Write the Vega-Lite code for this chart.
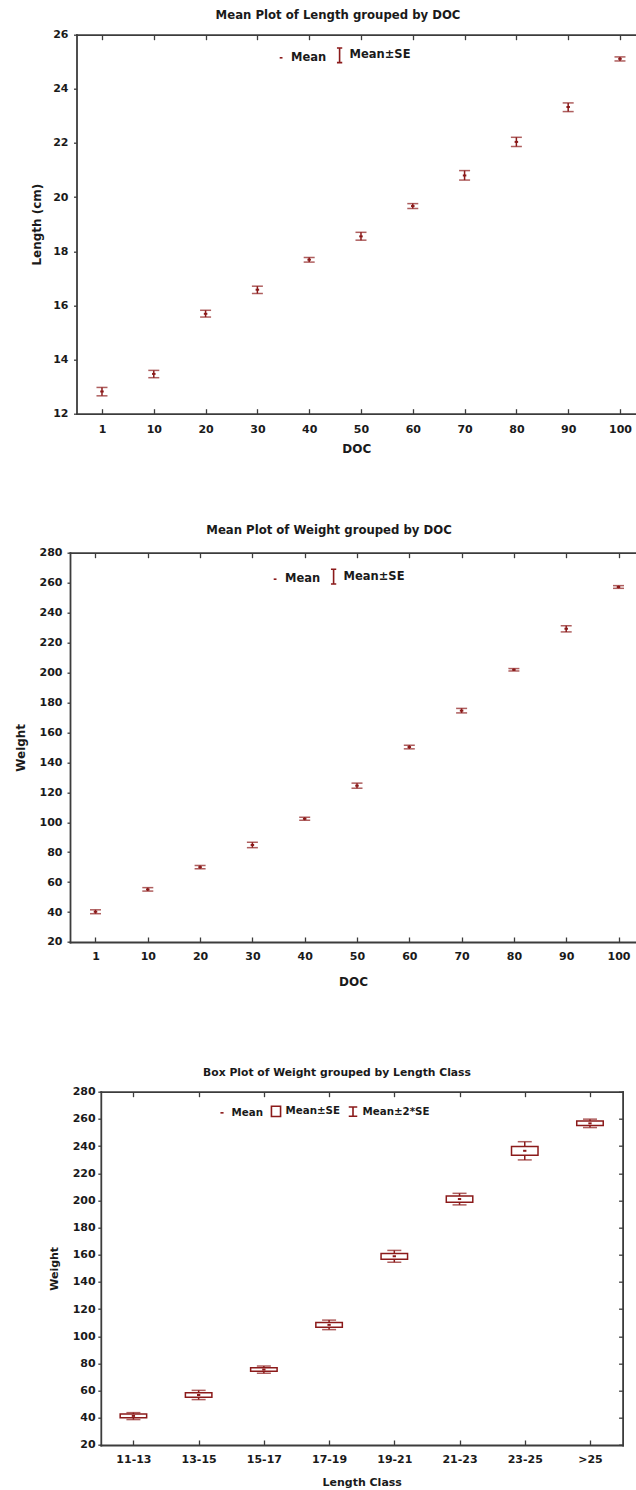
{
  "$schema": "https://vega.github.io/schema/vega-lite/v6.json",
  "padding": {"left": 14, "top": 9.7, "right": 0, "bottom": 0},
  "columns": 1,
  "spacing": 70,
  "align": "none",
  "bounds": "full",
  "resolve": {"scale": {"shape": "independent"}, "legend": {"shape": "independent"}},
  "config": {
    "font": "DejaVu Sans",
    "view": {"stroke": null},
    "axis": {
      "labelFont": "DejaVu Sans", "labelFontWeight": "bold", "labelFontSize": 11, "labelColor": "#1a1a1a",
      "titleFont": "DejaVu Sans", "titleFontWeight": "bold", "titleFontSize": 12, "titleColor": "#1a1a1a",
      "domainColor": "#3c3c3c", "domainWidth": 1.8, "domainCap": "square",
      "tickColor": "#3c3c3c", "tickWidth": 1.3, "grid": false, "labelAngle": 0
    },
    "title": {"font": "DejaVu Sans", "fontWeight": "bold", "color": "#1a1a1a", "anchor": "middle"},
    "legend": {"padding": 0, "labelFont": "DejaVu Sans", "labelFontWeight": "bold", "labelColor": "#1a1a1a", "symbolStrokeColor": "#8b1a1a", "symbolFillColor": "transparent", "symbolStrokeWidth": 1.6}
  },
  "concat": [
    {
      "width": 566, "height": 379,
      "title": {"text": "Mean Plot of Length grouped by  DOC", "fontSize": 11.7, "dx": -15, "offset": 7.3},
      "data": {"values": [
        {"DOC": "1", "mean": 12.82, "lo": 12.66, "hi": 12.97},
        {"DOC": "10", "mean": 13.47, "lo": 13.33, "hi": 13.6},
        {"DOC": "20", "mean": 15.69, "lo": 15.57, "hi": 15.82},
        {"DOC": "30", "mean": 16.58, "lo": 16.44, "hi": 16.71},
        {"DOC": "40", "mean": 17.69, "lo": 17.6, "hi": 17.77},
        {"DOC": "50", "mean": 18.55, "lo": 18.41, "hi": 18.7},
        {"DOC": "60", "mean": 19.67, "lo": 19.58, "hi": 19.76},
        {"DOC": "70", "mean": 20.8, "lo": 20.63, "hi": 20.98},
        {"DOC": "80", "mean": 22.04, "lo": 21.87, "hi": 22.21},
        {"DOC": "90", "mean": 23.33, "lo": 23.16, "hi": 23.48},
        {"DOC": "100", "mean": 25.11, "lo": 25.03, "hi": 25.18}
      ]},
      "layer": [
        {
          "mark": {"type": "rule", "color": "#8b1a1a", "strokeWidth": 1.5},
          "encoding": {
            "x": {"field": "DOC", "type": "ordinal", "sort": null,
                  "scale": {"type": "point", "domain": ["1","10","20","30","40","50","60","70","80","90","100"], "range": [6.5, 566], "padding": 0.4006, "align": 0.614},
                  "axis": {"orient": "bottom", "title": "DOC", "tickSize": -5, "labelPadding": 15, "titlePadding": 9}},
            "y": {"field": "lo", "type": "quantitative",
                  "scale": {"domain": [12, 26], "nice": false, "zero": false},
                  "axis": {"values": [12,14,16,18,20,22,24,26], "offset": -6.5, "tickSize": 3, "labelPadding": 5.5, "title": "Length (cm)", "titlePadding": 9}},
            "y2": {"field": "hi"}
          }
        },
        {
          "mark": {"type": "tick", "color": "#8b1a1a", "size": 11, "thickness": 1.5},
          "encoding": {"x": {"field": "DOC", "type": "ordinal", "sort": null, "axis": null}, "y": {"field": "lo", "type": "quantitative", "axis": null}}
        },
        {
          "mark": {"type": "tick", "color": "#8b1a1a", "size": 11, "thickness": 1.5},
          "encoding": {"x": {"field": "DOC", "type": "ordinal", "sort": null, "axis": null}, "y": {"field": "hi", "type": "quantitative", "axis": null}}
        },
        {
          "mark": {"type": "point", "filled": false, "color": "#8b1a1a", "size": 340, "strokeWidth": 2, "opacity": 1},
          "encoding": {
            "x": {"field": "DOC", "type": "ordinal", "sort": null, "axis": {"orient": "top", "labels": false, "title": null, "tickSize": -5}},
            "y": {"field": "mean", "type": "quantitative", "axis": null},
            "shape": {"datum": "Mean",
                      "scale": {"domain": ["Mean", "Mean±SE"], "range": ["M-0.19,0L0.19,0", "M-0.36,-1L0.36,-1M0,-1L0,1M-0.36,1L0.36,1"]},
                      "legend": {"title": null, "orient": "none", "legendX": 202.6, "legendY": 11.6, "direction": "horizontal", "symbolSize": 216, "labelFontSize": 11.5, "labelOffset": 1.5, "columnPadding": 4.5}}
          }
        }
      ],
      "resolve": {"axis": {"x": "independent", "y": "independent"}}
    },
    {
      "width": 566, "height": 389.3,
      "title": {"text": "Mean Plot of Weight grouped by  DOC", "fontSize": 11.7, "dx": -24, "offset": 9.7},
      "data": {"values": [
        {"DOC": "1", "mean": 40.2, "lo": 38.9, "hi": 41.5},
        {"DOC": "10", "mean": 55.1, "lo": 54.0, "hi": 56.3},
        {"DOC": "20", "mean": 70.0, "lo": 68.9, "hi": 71.1},
        {"DOC": "30", "mean": 84.8, "lo": 83.0, "hi": 86.6},
        {"DOC": "40", "mean": 102.3, "lo": 101.3, "hi": 103.3},
        {"DOC": "50", "mean": 124.4, "lo": 122.7, "hi": 126.1},
        {"DOC": "60", "mean": 150.2, "lo": 149.0, "hi": 151.4},
        {"DOC": "70", "mean": 174.5, "lo": 173.0, "hi": 176.0},
        {"DOC": "80", "mean": 201.8, "lo": 201.0, "hi": 202.6},
        {"DOC": "90", "mean": 229.2, "lo": 227.1, "hi": 231.2},
        {"DOC": "100", "mean": 257.1, "lo": 256.2, "hi": 258.0}
      ]},
      "layer": [
        {
          "mark": {"type": "rule", "color": "#8b1a1a", "strokeWidth": 1.5},
          "encoding": {
            "x": {"field": "DOC", "type": "ordinal", "sort": null,
                  "scale": {"type": "point", "domain": ["1","10","20","30","40","50","60","70","80","90","100"], "padding": 0.411, "align": 0.593},
                  "axis": {"orient": "bottom", "title": ["DOC", ""], "titleLineHeight": 8, "tickSize": -5, "labelPadding": 14, "titlePadding": 15}},
            "y": {"field": "lo", "type": "quantitative",
                  "scale": {"domain": [20, 280], "nice": false, "zero": false},
                  "axis": {"values": [20,40,60,80,100,120,140,160,180,200,220,240,260,280], "tickSize": 3, "labelPadding": 5, "title": "Weight", "titlePadding": 12}},
            "y2": {"field": "hi"}
          }
        },
        {
          "mark": {"type": "tick", "color": "#8b1a1a", "size": 11, "thickness": 1.5},
          "encoding": {"x": {"field": "DOC", "type": "ordinal", "sort": null, "axis": null}, "y": {"field": "lo", "type": "quantitative", "axis": null}}
        },
        {
          "mark": {"type": "tick", "color": "#8b1a1a", "size": 11, "thickness": 1.5},
          "encoding": {"x": {"field": "DOC", "type": "ordinal", "sort": null, "axis": null}, "y": {"field": "hi", "type": "quantitative", "axis": null}}
        },
        {
          "mark": {"type": "point", "filled": false, "color": "#8b1a1a", "size": 340, "strokeWidth": 2, "opacity": 1},
          "encoding": {
            "x": {"field": "DOC", "type": "ordinal", "sort": null, "axis": {"orient": "top", "labels": false, "title": null, "tickSize": -5}},
            "y": {"field": "mean", "type": "quantitative", "axis": null},
            "shape": {"datum": "Mean",
                      "scale": {"domain": ["Mean", "Mean±SE"], "range": ["M-0.19,0L0.19,0", "M-0.36,-1L0.36,-1M0,-1L0,1M-0.36,1L0.36,1"]},
                      "legend": {"title": null, "orient": "none", "legendX": 196.6, "legendY": 15, "direction": "horizontal", "symbolSize": 216, "labelFontSize": 11.5, "labelOffset": 1.5, "columnPadding": 4.5}}
          }
        }
      ],
      "resolve": {"axis": {"x": "independent", "y": "independent"}}
    },
    {
      "width": 552.6, "height": 353.3,
      "title": {"text": "Box Plot of Weight grouped by  Length Class", "fontSize": 10.8, "dx": -9.3, "offset": 7.7},
      "data": {"values": [
        {"cls": "11-13", "mean": 41.4, "boxLo": 40.0, "boxHi": 42.8, "whLo": 38.7, "whHi": 43.8},
        {"cls": "13-15", "mean": 56.8, "boxLo": 55.1, "boxHi": 58.5, "whLo": 53.4, "whHi": 60.2},
        {"cls": "15-17", "mean": 75.5, "boxLo": 74.3, "boxHi": 76.9, "whLo": 72.8, "whHi": 78.1},
        {"cls": "17-19", "mean": 108.4, "boxLo": 106.6, "boxHi": 110.2, "whLo": 104.9, "whHi": 111.9},
        {"cls": "19-21", "mean": 158.9, "boxLo": 156.7, "boxHi": 161.0, "whLo": 154.5, "whHi": 163.2},
        {"cls": "21-23", "mean": 201.0, "boxLo": 198.6, "boxHi": 203.2, "whLo": 196.7, "whHi": 205.2},
        {"cls": "23-25", "mean": 236.5, "boxLo": 233.2, "boxHi": 239.7, "whLo": 229.8, "whHi": 243.2},
        {"cls": ">25", "mean": 256.7, "boxLo": 255.1, "boxHi": 258.4, "whLo": 253.6, "whHi": 259.8}
      ]},
      "layer": [
        {
          "mark": {"type": "rule", "color": "#8b1a1a", "strokeWidth": 1.5},
          "encoding": {
            "x": {"field": "cls", "type": "ordinal", "sort": null,
                  "scale": {"type": "point", "domain": ["11-13","13-15","15-17","17-19","19-21","21-23","23-25",">25"], "range": [30.8, 552.6], "padding": 0.5},
                  "axis": {"orient": "bottom", "title": "Length Class", "titleFontSize": 11, "tickSize": -5, "labelPadding": 13.3, "titlePadding": 12.4}},
            "y": {"field": "whLo", "type": "quantitative",
                  "scale": {"domain": [20, 280], "nice": false, "zero": false},
                  "axis": {"values": [20,40,60,80,100,120,140,160,180,200,220,240,260,280], "offset": -30.8, "tickSize": 3, "labelPadding": 2.7, "title": "Weight", "titleFontSize": 11, "titlePadding": 12.7}},
            "y2": {"field": "whHi"}
          }
        },
        {
          "mark": {"type": "tick", "color": "#8b1a1a", "size": 14, "thickness": 1.5},
          "encoding": {"x": {"field": "cls", "type": "ordinal", "sort": null, "axis": null}, "y": {"field": "whLo", "type": "quantitative", "axis": null}}
        },
        {
          "mark": {"type": "tick", "color": "#8b1a1a", "size": 14, "thickness": 1.5},
          "encoding": {"x": {"field": "cls", "type": "ordinal", "sort": null, "axis": null}, "y": {"field": "whHi", "type": "quantitative", "axis": null}}
        },
        {
          "mark": {"type": "bar", "width": 26.5, "fill": "white", "stroke": "#8b1a1a", "strokeWidth": 1.5},
          "encoding": {"x": {"field": "cls", "type": "ordinal", "sort": null, "axis": null},
                       "y": {"field": "boxLo", "type": "quantitative", "axis": {"orient": "right", "labels": false, "title": null, "tickSize": -4, "values": [20,40,60,80,100,120,140,160,180,200,220,240,260,280]}},
                       "y2": {"field": "boxHi"}}
        },
        {
          "mark": {"type": "point", "filled": false, "color": "#8b1a1a", "size": 160, "strokeWidth": 2, "opacity": 1},
          "encoding": {
            "x": {"field": "cls", "type": "ordinal", "sort": null, "axis": {"orient": "top", "labels": false, "title": null, "tickSize": -5}},
            "y": {"field": "mean", "type": "quantitative", "axis": null},
            "shape": {"datum": "Mean",
                      "scale": {"domain": ["Mean", "Mean±SE", "Mean±2*SE"], "range": ["M-0.26,0L0.26,0", "M-0.76,-0.85H0.76V0.85H-0.76Z", "M-0.71,-0.77H0.71M0,-0.77V0.77M-0.71,0.77H0.71"]},
                      "legend": {"title": null, "orient": "none", "legendX": 145, "legendY": 12.3, "direction": "horizontal", "symbolSize": 144, "labelFontSize": 10.3, "labelOffset": 2.5, "columnPadding": 4}}
          }
        }
      ],
      "resolve": {"axis": {"x": "independent", "y": "independent"}}
    }
  ]
}
